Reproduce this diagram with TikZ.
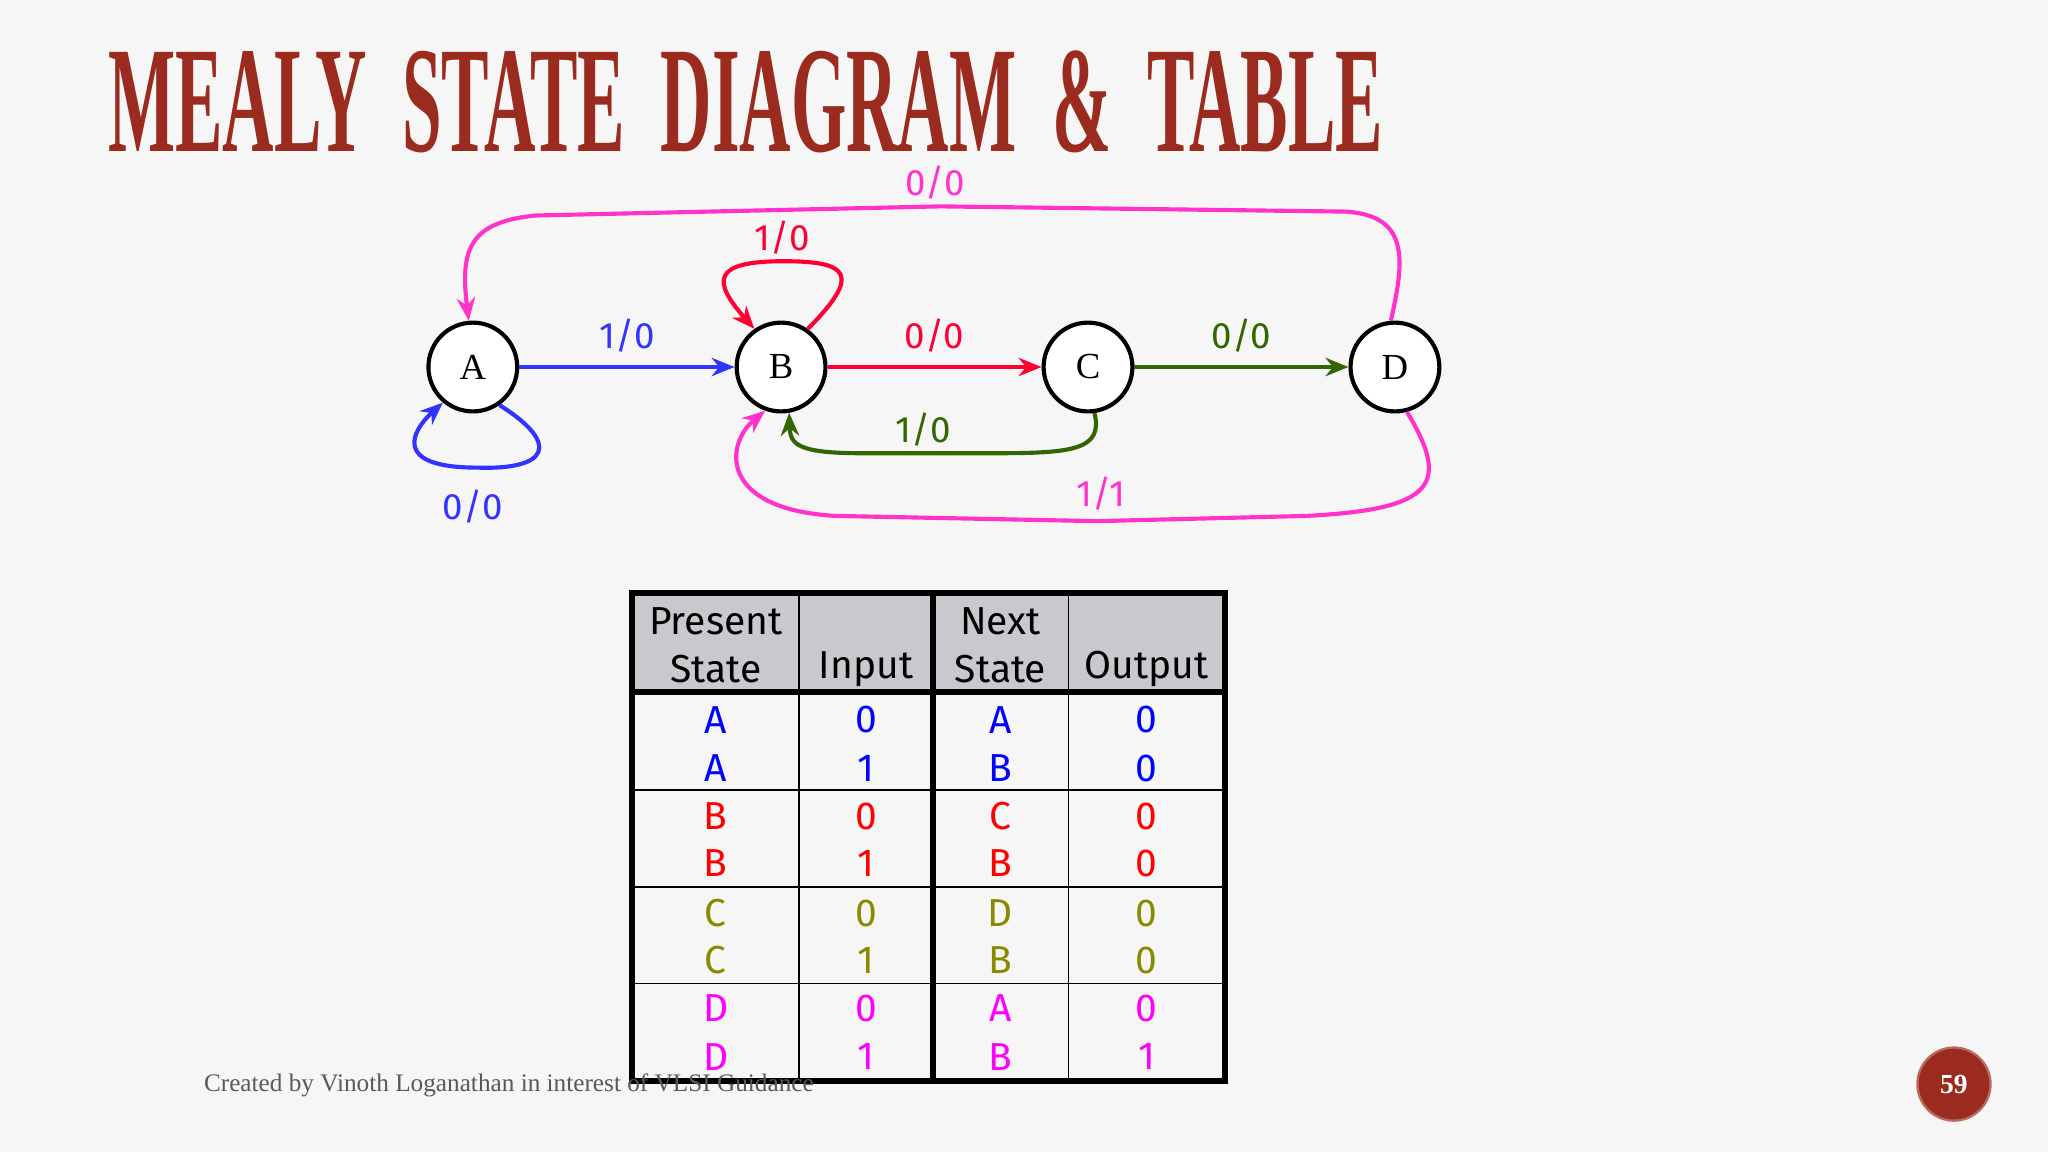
\documentclass[tikz,border=0pt]{standalone}
\usepackage{fontspec}
\setmainfont{Liberation Serif}
\newfontfamily\comic{Fira Sans}
\newfontfamily\titlefont{Liberation Serif}
\usetikzlibrary{arrows.meta}
\definecolor{bg}{HTML}{F7F6F6}
\definecolor{ttl}{HTML}{9B2B1E}
\definecolor{eblue}{HTML}{3333FF}
\definecolor{ered}{HTML}{FF0033}
\definecolor{egreen}{HTML}{336600}
\definecolor{emag}{HTML}{FF33CC}
\definecolor{tblue}{HTML}{0000FF}
\definecolor{tred}{HTML}{FF0000}
\definecolor{tolive}{HTML}{8A8A00}
\definecolor{tmag}{HTML}{FF00FF}
\definecolor{hdr}{HTML}{C9C8CC}
\tikzset{
 state/.style={circle,draw=black,line width=1.8pt,fill=white,minimum size=1.36cm,inner sep=0pt,font=\fontsize{16}{18}\selectfont},
 edge/.style={line width=1.8pt,-{Stealth[length=10pt,width=8pt]}},
 lbl/.style={font=\comic\fontsize{16}{18}\selectfont},
 cell/.style={font=\comic\fontsize{17}{19}\selectfont},
 rule/.style={line width=0.8pt,black}
}
\begin{document}
\begin{tikzpicture}[x=0.02cm,y=-0.02cm]
\fill[bg] (0,0) rectangle (1568,882);
\useasboundingbox (0,0) rectangle (1568,882);
\node[anchor=west,text=ttl,xscale=0.47,font=\titlefont\bfseries\fontsize{66}{70}\selectfont] (title) at (80,78) {MEALY\ \ STATE\ \ DIAGRAM\ \ \&\ \ TABLE};
% states
\node[state] (A) at (362,281) {A};
\node[state] (B) at (598,281) {B};
\node[state] (C) at (833,281) {C};
\node[state] (D) at (1068,281) {D};
% edges
\draw[edge,eblue] (A) -- (B) node[lbl,midway,above=2pt]{1/0};
\draw[edge,ered] (B) -- (C) node[lbl,midway,above=2pt]{0/0};
\draw[edge,egreen] (C) -- (D) node[lbl,midway,above=2pt]{0/0};
\draw[edge,eblue] (A.-55) .. controls (430,340) and (420,360) .. (365,358) .. controls (300,358) and (315,330) .. (A.-130);
\node[lbl,text=eblue] (la) at (362,388) {0/0};
\draw[edge,ered] (B.55) .. controls (660,210) and (650,200) .. (600,200) .. controls (545,200) and (545,215) .. (B.125);
\node[lbl,text=ered] (lb) at (599,182) {1/0};
\draw[edge,egreen] (C.-82) .. controls (845,345) and (820,347) .. (760,347) -- (660,347) .. controls (610,347) and (605,340) .. (B.-80);
\node[lbl,text=egreen] (lc) at (707,329) {1/0};
\draw[edge,emag] (D.95) .. controls (1075,200) and (1080,165) .. (1030,162) -- (720,158) -- (410,165) .. controls (360,170) and (352,190) .. (A.95);
\node[lbl,text=emag] (ld) at (716,140) {0/0};
\draw[edge,emag] (D.-75) .. controls (1110,370) and (1100,390) .. (1000,395) -- (840,399) -- (640,395) .. controls (550,390) and (555,340) .. (B.-110);
\node[lbl,text=emag] (le) at (843,378) {1/1};
% table
\fill[hdr] (484,454) rectangle (938,530);
\draw[line width=2.6pt] (484,454) rectangle (938,828);
\draw[line width=2.6pt] (714,454) -- (714,828);
\draw[line width=2.6pt] (484,530) -- (938,530);
\draw[rule] (612,454) -- (612,828);
\draw[rule] (818,454) -- (818,828);
\foreach \yy in {605,679,753} \draw[rule] (484,\yy) -- (938,\yy);
\node[cell] (h1a) at (548,476) {Present};
\node[cell] (h1b) at (548,512) {State};
\node[cell] (h2) at (663,512) {Input};
\node[cell] (h3a) at (766,476) {Next};
\node[cell] (h3b) at (766,512) {State};
\node[cell] (h4) at (878,512) {Output};
\foreach \y/\a/\b/\c/\d/\col in {551/A/0/A/0/tblue,588/A/1/B/0/tblue,625/B/0/C/0/tred,661/B/1/B/0/tred,699/C/0/D/0/tolive,735/C/1/B/0/tolive,772/D/0/A/0/tmag,809/D/1/B/1/tmag}{
 \node[cell,text=\col] at (548,\y) {\a};
 \node[cell,text=\col] at (663,\y) {\b};
 \node[cell,text=\col] at (766,\y) {\c};
 \node[cell,text=\col] at (878,\y) {\d};
}
\node[anchor=west,text=black!65,font=\fontsize{11}{13}\selectfont] (foot) at (150,831) {Created by Vinoth Loganathan in interest of VLSI Guidance};
\node[circle,fill=ttl,draw=ttl!70,line width=1pt,minimum size=1.12cm,text=white,font=\bfseries\fontsize{12}{14}\selectfont] (pg) at (1496,830) {59};
\end{tikzpicture}
\end{document}
